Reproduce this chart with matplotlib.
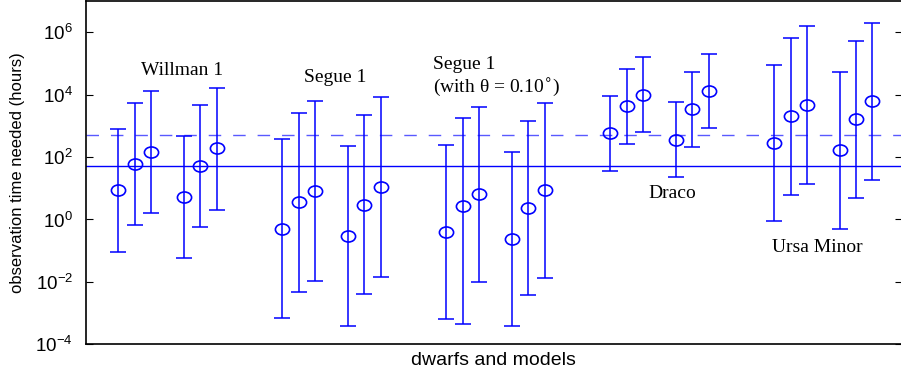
import numpy as np
import matplotlib
matplotlib.use("Agg")
import matplotlib.pyplot as plt
from matplotlib.path import Path

# ---- data (hours) ----
group_names = ["Willman 1", "Segue 1", "Segue 1 (with θ = 0.10°)", "Draco", "Ursa Minor"]

willman_center = [8.5, 60, 141, 5.2, 50, 190]
willman_upper = [800, 5400, 13000, 460, 4500, 16600]
willman_lower = [0.093, 0.66, 1.57, 0.059, 0.56, 2.06]

segue_center = [0.49, 3.5, 8.3, 0.295, 2.97, 10.8]
segue_upper = [370, 2600, 6400, 220, 2240, 8100]
segue_lower = [0.00068, 0.0046, 0.0108, 0.00039, 0.004, 0.0148]

segue_theta_center = [0.41, 2.8, 6.7, 0.245, 2.38, 8.95]
segue_theta_upper = [245, 1780, 4050, 147, 1470, 5400]
segue_theta_lower = [0.00063, 0.00046, 0.0097, 0.00038, 0.0038, 0.0138]

draco_center = [593, 4330, 9700, 355, 3470, 13000]
draco_upper = [9000, 65800, 155000, 5620, 54000, 207000]
draco_lower = [37, 263, 615, 22.6, 217, 830]

ursa_center = [284, 2000, 4650, 170, 1660, 6400]
ursa_upper = [92000, 676000, 1.55e6, 55000, 537000, 2.04e6]
ursa_lower = [0.87, 6.2, 14.2, 0.51, 4.97, 18.6]

solid_threshold = 50
dashed_threshold = 500

ytick_values = [1e-4, 1e-2, 1e0, 1e2, 1e4, 1e6]

groups = [
    (willman_center, willman_lower, willman_upper),
    (segue_center, segue_lower, segue_upper),
    (segue_theta_center, segue_theta_lower, segue_theta_upper),
    (draco_center, draco_lower, draco_upper),
    (ursa_center, ursa_lower, ursa_upper),
]

# ---- figure ----
plt.rcParams['font.family'] = ['Liberation Sans', 'DejaVu Sans']
fig = plt.figure(figsize=(9.01, 3.77), dpi=100)
W, H = 901, 377
left_px, right_px, top_px, bot_px = 85.5, 902, 1.0, 344.3
ax = fig.add_axes([left_px / W, 1 - bot_px / H, (right_px - left_px) / W, (bot_px - top_px) / H])

blue = (0, 0, 1)
circ = Path.unit_circle()
ell = Path(circ.vertices * np.array([1.0, 0.78]), circ.codes)

for g, (c, lo, hi) in enumerate(groups):
    c = np.asarray(c); lo = np.asarray(lo); hi = np.asarray(hi)
    idx = np.arange(len(c))
    x = 2 + 10 * g + idx + (idx // 3)
    ax.errorbar(x, c, yerr=[c - lo, hi - c], fmt='none', ecolor=blue,
                elinewidth=1.1, capsize=5.6, capthick=1.1, zorder=3)
    ax.plot(x, c, linestyle='none', marker=ell, markersize=10.2,
            markerfacecolor='none', markeredgecolor=blue, markeredgewidth=1.2, zorder=4)

ax.axhline(solid_threshold, color=blue, lw=1.0, zorder=2)
ax.axhline(dashed_threshold, color=(0.35, 0.35, 1.0), lw=1.0, dashes=(9, 8.6), zorder=2)

ax.set_yscale('log')
ax.set_ylim(1e-4, 1e7)
ax.set_xlim(0, 49.8)
ax.set_yticks(ytick_values)
ax.yaxis.set_minor_locator(matplotlib.ticker.NullLocator())
ax.set_xticks([])
ax.tick_params(axis='y', which='major', direction='in', length=5, width=0.8,
               left=True, right=True, labelsize=13.5, pad=9)
for s in ax.spines.values():
    s.set_linewidth(1.2)

ax.set_ylabel('observation time needed (hours)', fontsize=12)
ax.yaxis.set_label_coords(-0.0745, 0.5)
ax.set_xlabel('dwarfs and models', fontsize=14)
ax.xaxis.set_label_coords(0.5, -0.022)

serif = ['Liberation Serif', 'DejaVu Serif']
tfs = 14
ax.text(5.9, 10**4.76, 'Willman 1', family=serif, fontsize=tfs, ha='center', va='center')
ax.text(15.25, 10**4.55, 'Segue 1', family=serif, fontsize=tfs, ha='center', va='center')
ax.text(21.2, 10**4.98, 'Segue 1', family=serif, fontsize=tfs, ha='left', va='center')
ax.text(21.2, 10**4.23, '(with θ = 0.10$^{\\circ}$)', family=serif, fontsize=tfs, ha='left', va='center')
ax.text(35.77, 10**0.84, 'Draco', family=serif, fontsize=tfs, ha='center', va='center')
ax.text(44.64, 10**-0.9, 'Ursa Minor', family=serif, fontsize=tfs, ha='center', va='center')

fig.savefig('out.png', dpi=100)
